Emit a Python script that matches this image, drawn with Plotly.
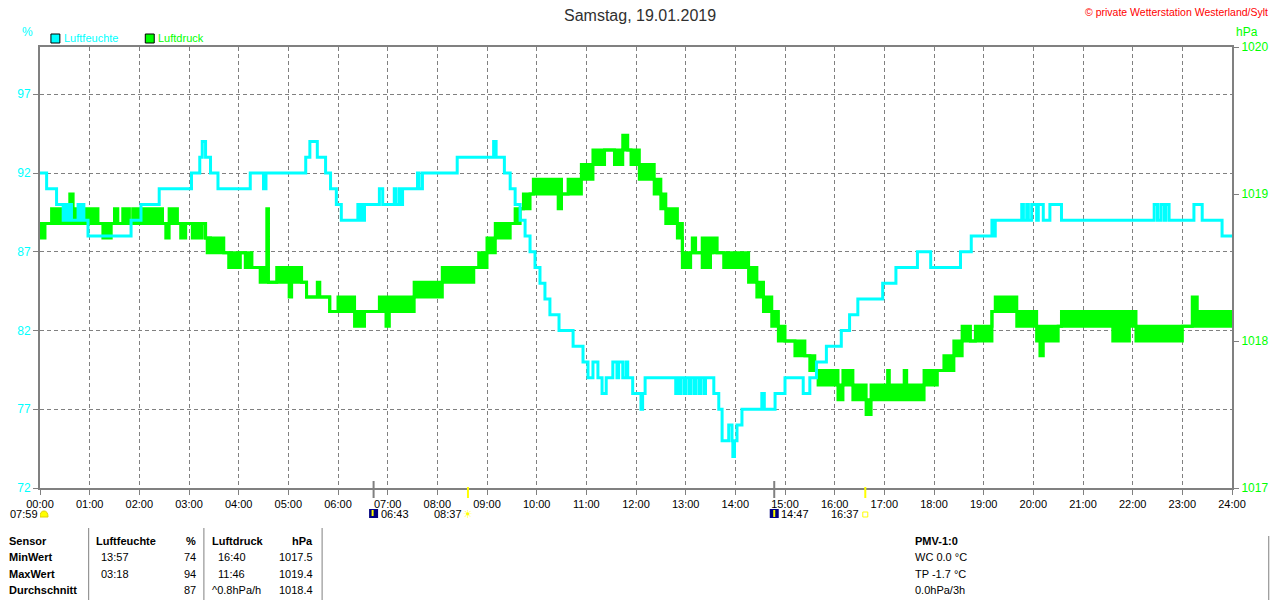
import plotly.graph_objects as go

# Luftfeuchte (%) als Stufen: Zeitpunkt des Wechsels und neuer Wert
feuchte_zeit = [
    "00:00", "00:08", "00:20", "00:28", "00:30", "00:33", "00:36", "00:38", "00:46", "00:48",
    "00:51", "00:53", "00:58", "01:50", "02:02", "02:24", "03:03", "03:13", "03:16", "03:20",
    "03:26", "03:35", "04:14", "04:30", "04:33", "05:21", "05:26", "05:35", "05:45", "05:51",
    "05:58", "06:04", "06:24", "06:26", "06:29", "06:31", "06:32", "06:50", "06:54", "07:08",
    "07:10", "07:14", "07:16", "07:18", "07:36", "07:38", "07:42", "08:24", "09:08", "09:11",
    "09:21", "09:28", "09:34", "09:40", "09:46", "09:52", "09:58", "10:04", "10:10", "10:16",
    "10:27", "10:44", "10:56", "11:02", "11:08", "11:14", "11:19", "11:24", "11:32", "11:37",
    "11:39", "11:44", "11:48", "11:50", "11:56", "12:06", "12:08", "12:11", "12:48", "12:50",
    "12:52", "12:54", "12:58", "13:00", "13:04", "13:06", "13:10", "13:12", "13:16", "13:18",
    "13:22", "13:24", "13:34", "13:40", "13:44", "13:52", "13:56", "13:57", "13:59", "14:02",
    "14:08", "14:32", "14:35", "14:48", "15:00", "15:22", "15:30", "15:38", "15:50", "16:08",
    "16:18", "16:28", "16:58", "17:14", "17:40", "17:56", "18:32", "18:45", "19:10", "19:12",
    "19:14", "19:46", "19:48", "19:52", "19:54", "19:58", "20:04", "20:06", "20:12", "20:20",
    "20:34", "22:26", "22:30", "22:34", "22:38", "22:40", "22:44", "23:14", "23:24", "23:48",
    "24:00",
]
feuchte_wert = [
    92, 91, 90, 89, 90, 89, 90, 89, 90, 89,
    90, 89, 88, 89, 90, 91, 92, 93, 94, 93,
    92, 91, 92, 91, 92, 93, 94, 93, 92, 91,
    90, 89, 90, 89, 90, 89, 90, 91, 90, 91,
    90, 91, 90, 91, 92, 91, 92, 93, 94, 93,
    92, 91, 90, 89, 88, 87, 86, 85, 84, 83,
    82, 81, 80, 79, 80, 79, 78, 79, 80, 79,
    80, 79, 80, 79, 78, 77, 78, 79, 78, 79,
    78, 79, 78, 79, 78, 79, 78, 79, 78, 79,
    78, 79, 78, 77, 75, 76, 75, 74, 75, 76,
    77, 78, 77, 78, 79, 78, 79, 80, 81, 82,
    83, 84, 85, 86, 87, 86, 87, 88, 89, 88,
    89, 90, 89, 90, 89, 90, 89, 90, 89, 90,
    89, 90, 89, 90, 89, 90, 89, 90, 89, 88,
    88,
]

# Luftdruck (hPa): der Wert springt ständig zwischen zwei Stufen hin und her.
druck_zeit = [
    "00:00", "00:06", "00:14", "00:36", "00:40", "01:10", "01:16", "01:26", "01:30", "01:34",
    "01:40", "01:48", "01:52", "02:28", "02:32", "02:36", "02:46", "02:50", "02:56", "03:04",
    "03:16", "03:20", "03:22", "03:24", "03:26", "03:42", "03:48", "04:02", "04:08", "04:16",
    "04:26", "04:34", "04:36", "04:46", "05:01", "05:04", "05:16", "05:22", "05:35", "05:38",
    "05:50", "06:00", "06:20", "06:32", "06:50", "06:58", "07:02", "07:32", "08:06", "08:44",
    "08:50", "09:00", "09:10", "09:28", "09:34", "09:40", "09:44", "09:52", "09:56", "10:26",
    "10:30", "10:38", "10:54", "11:08", "11:22", "11:34", "11:44", "11:50", "11:54", "12:04",
    "12:22", "12:30", "12:36", "12:50", "12:56", "13:06", "13:08", "13:12", "13:20", "13:30",
    "13:32", "13:38", "13:46", "14:16", "14:26", "14:34", "14:44", "14:52", "15:00", "15:12",
    "15:24", "15:30", "15:36", "15:40", "16:04", "16:10", "16:22", "16:38", "16:44", "17:04",
    "17:06", "17:24", "17:27", "17:48", "18:04", "18:12", "18:24", "18:34", "18:44", "18:50",
    "19:10", "19:14", "19:40", "20:04", "20:08", "20:12", "20:30", "20:34", "21:36", "21:56",
    "22:04", "23:00", "23:12", "23:18", "24:00",
]
druck_min = [
    1018.7, 1018.8, 1018.8, 1018.8, 1018.8, 1018.8, 1018.7, 1018.8, 1018.8, 1018.8,
    1018.8, 1018.8, 1018.8, 1018.8, 1018.7, 1018.8, 1018.8, 1018.7, 1018.8, 1018.7,
    1018.8, 1018.7, 1018.6, 1018.7, 1018.6, 1018.6, 1018.5, 1018.6, 1018.5, 1018.5,
    1018.4, 1018.4, 1018.4, 1018.4, 1018.3, 1018.4, 1018.4, 1018.3, 1018.3, 1018.3,
    1018.2, 1018.2, 1018.1, 1018.2, 1018.2, 1018.1, 1018.2, 1018.3, 1018.4, 1018.5,
    1018.5, 1018.6, 1018.7, 1018.8, 1018.8, 1018.9, 1018.9, 1019.0, 1019.0, 1018.9,
    1019.0, 1019.0, 1019.1, 1019.2, 1019.3, 1019.2, 1019.3, 1019.3, 1019.2, 1019.1,
    1019.0, 1018.9, 1018.8, 1018.7, 1018.5, 1018.6, 1018.6, 1018.6, 1018.5, 1018.6,
    1018.6, 1018.6, 1018.5, 1018.4, 1018.3, 1018.2, 1018.1, 1018.0, 1018.0, 1017.9,
    1017.9, 1017.8, 1017.8, 1017.7, 1017.6, 1017.7, 1017.6, 1017.5, 1017.6, 1017.6,
    1017.6, 1017.6, 1017.6, 1017.7, 1017.8, 1017.8, 1017.9, 1018.0, 1018.0, 1018.0,
    1018.2, 1018.2, 1018.1, 1018.0, 1017.9, 1018.0, 1018.1, 1018.1, 1018.0, 1018.1,
    1018.0, 1018.1, 1018.1, 1018.1, 1018.1,
]
druck_max = [
    1018.8, 1018.8, 1018.9, 1019.0, 1018.9, 1018.8, 1018.8, 1018.8, 1018.9, 1018.8,
    1018.9, 1018.8, 1018.9, 1018.8, 1018.8, 1018.9, 1018.8, 1018.8, 1018.8, 1018.8,
    1018.8, 1018.7, 1018.7, 1018.7, 1018.7, 1018.6, 1018.6, 1018.6, 1018.6, 1018.5,
    1018.5, 1018.9, 1018.4, 1018.5, 1018.5, 1018.5, 1018.4, 1018.3, 1018.4, 1018.3,
    1018.2, 1018.3, 1018.2, 1018.2, 1018.3, 1018.3, 1018.3, 1018.4, 1018.5, 1018.5,
    1018.6, 1018.7, 1018.8, 1018.8, 1018.9, 1018.9, 1019.0, 1019.0, 1019.1, 1019.1,
    1019.0, 1019.1, 1019.2, 1019.3, 1019.3, 1019.3, 1019.4, 1019.3, 1019.3, 1019.2,
    1019.1, 1019.0, 1018.9, 1018.8, 1018.6, 1018.6, 1018.7, 1018.6, 1018.7, 1018.6,
    1018.7, 1018.6, 1018.6, 1018.5, 1018.4, 1018.3, 1018.2, 1018.1, 1018.0, 1018.0,
    1017.9, 1017.9, 1017.8, 1017.8, 1017.7, 1017.8, 1017.7, 1017.6, 1017.7, 1017.8,
    1017.7, 1017.8, 1017.7, 1017.8, 1017.8, 1017.9, 1018.0, 1018.1, 1018.0, 1018.1,
    1018.2, 1018.3, 1018.2, 1018.1, 1018.1, 1018.1, 1018.1, 1018.2, 1018.2, 1018.2,
    1018.1, 1018.1, 1018.3, 1018.2, 1018.2,
]

stunden = [f"{h:02d}:00" for h in range(25)]
feuchte_ticks = [72, 77, 82, 87, 92, 97]
druck_ticks = [1017, 1018, 1019, 1020]

# Sonne / Mond
mond_unter = "06:43"
sonne_auf = "08:37"
mond_auf = "14:47"
sonne_unter = "16:37"
tageslaenge = "07:59"

# Tabelle unten
tab_sensor = ["MinWert", "MaxWert", "Durchschnitt"]
tab_feuchte_zeit = ["13:57", "03:18", ""]
tab_feuchte_wert = ["74", "94", "87"]
tab_druck_zeit = ["16:40", "11:46", "^0.8hPa/h"]
tab_druck_wert = ["1017.5", "1019.4", "1018.4"]
pmv_zeilen = ["<b>PMV-1:0</b>", "WC 0.0 °C", "TP -1.7 °C", "0.0hPa/3h"]

CYAN = "#00FFFF"
GRUEN = "#00FF00"
GRAU = "#808080"
FONT = "Liberation Sans, Arial, sans-serif"


def minuten(t):
    h, m = t.split(":")
    return int(h) * 60 + int(m)


# Pixel -> Papierkoordinaten (Plotfläche x 40..1240, y 47..488)
def px(x):
    return (x - 40) / 1200


def py(y):
    return (488 - y) / 441


fig = go.Figure()

# Druck: obere und untere Stufe, dazwischen gefüllt (das schnelle Hin- und Herspringen)
dx = [minuten(t) for t in druck_zeit]
fig.add_trace(go.Scatter(
    x=dx, y=druck_max, mode="lines",
    line=dict(color=GRUEN, width=3, shape="hv"), yaxis="y", name="Luftdruck",
))
fig.add_trace(go.Scatter(
    x=dx, y=druck_min, mode="lines", fill="tonexty", fillcolor=GRUEN,
    line=dict(color=GRUEN, width=3, shape="hv"), yaxis="y", name="Luftdruck min",
))
fig.add_trace(go.Scatter(
    x=[minuten(t) for t in feuchte_zeit], y=feuchte_wert, mode="lines",
    line=dict(color=CYAN, width=3, shape="hv"), yaxis="y2", name="Luftfeuchte",
))

ann = []
shapes = []


def text(x, y, s, color="black", size=11, anchor="left", xref="paper", xshift=0):
    ann.append(dict(x=x, y=y, xref=xref, yref="paper", text=s, showarrow=False,
                    xanchor=anchor, yanchor="middle", xshift=xshift,
                    font=dict(family=FONT, size=size, color=color)))


# Titel und Kopfzeile
text(px(644), py(15), "Samstag, 19.01.2019", color="#303030", size=16, anchor="center")
text(px(1278), py(12), "© private Wetterstation Westerland/Sylt", color="red", size=10.5, anchor="right")
text(px(20), py(32), "%", color=CYAN, size=12)
text(px(1242), py(32), "hPa", color=GRUEN, size=12)

# Legende
for x0, farbe, name in [(51, CYAN, "Luftfeuchte"), (146, GRUEN, "Luftdruck")]:
    shapes.append(dict(type="rect", xref="paper", yref="paper", x0=px(x0), x1=px(x0 + 9),
                       y0=py(43), y1=py(34), fillcolor=farbe, line=dict(color="black", width=1)))
    text(px(x0 + 11), py(38), name, color=farbe, size=11)

# Sonne / Mond Markierungen an der Zeitachse
for t, farbe in [(mond_unter, GRAU), (sonne_auf, "#FFFF00"), (mond_auf, GRAU), (sonne_unter, "#FFFF00")]:
    m = minuten(t)
    shapes.append(dict(type="line", xref="x", yref="paper", x0=m, x1=m, ysizemode="pixel", yanchor=0,
                       y0=-10, y1=(7 if farbe == GRAU else 1), line=dict(color=farbe, width=2)))

for t, pfeil in [(mond_unter, "M-1,-22 L-1,-28"), (mond_auf, "M0,-29 L0,-22")]:
    m = minuten(t)
    shapes.append(dict(type="rect", xref="x", yref="paper", xsizemode="pixel", ysizemode="pixel",
                       xanchor=m, yanchor=0, x0=-4.5, x1=4.5, y0=-30, y1=-21,
                       fillcolor="#000080", line=dict(width=0)))
    shapes.append(dict(type="path", xref="x", yref="paper", xsizemode="pixel", ysizemode="pixel",
                       xanchor=m, yanchor=0, path=pfeil, line=dict(color="#FFFF00", width=2)))
    text(m, py(514), t, xref="x", xshift=5)

text(minuten(sonne_auf), py(514), sonne_auf, xref="x", anchor="right", xshift=-4)
ann.append(dict(x=minuten(sonne_auf), y=py(514), xref="x", yref="paper", text="☀", showarrow=False,
                xanchor="center", yanchor="middle", font=dict(family="DejaVu Sans", size=11, color="#FFFF00")))
text(minuten(sonne_unter), py(514), sonne_unter, xref="x", anchor="right", xshift=-4)
shapes.append(dict(type="rect", xref="x", yref="paper", xsizemode="pixel", ysizemode="pixel",
                   xanchor=minuten(sonne_unter), yanchor=0, x0=-2.5, x1=2.5, y0=-29, y1=-24,
                   fillcolor="white", line=dict(color="#FFFF00", width=1)))

text(px(8), py(514), tageslaenge)
shapes.append(dict(type="path", xref="x", yref="paper", xsizemode="pixel", ysizemode="pixel",
                   xanchor=0, yanchor=0, path="M0,-29 Q0,-23 4,-23 Q8,-23 8,-29 Z",
                   fillcolor="#FFFF00", line=dict(color="#E0D000", width=1)))

# Tabelle
zeilen_y = [541, 557, 574, 590]
text(px(7), py(zeilen_y[0]), "<b>Sensor</b>")
text(px(94), py(zeilen_y[0]), "<b>Luftfeuchte</b>")
text(px(199), py(zeilen_y[0]), "<b>%</b>", anchor="right")
text(px(211), py(zeilen_y[0]), "<b>Luftdruck</b>")
text(px(317), py(zeilen_y[0]), "<b>hPa</b>", anchor="right")
for i, y in enumerate(zeilen_y[1:]):
    text(px(7), py(y), f"<b>{tab_sensor[i]}</b>")
    text(px(99), py(y), tab_feuchte_zeit[i])
    text(px(199), py(y), tab_feuchte_wert[i], anchor="right")
    dz = tab_druck_zeit[i]
    text(px(211 if dz.startswith("^") else 217), py(y), dz)
    text(px(317), py(y), tab_druck_wert[i], anchor="right")
for i, y in enumerate(zeilen_y):
    text(px(919), py(y), pmv_zeilen[i])

for x in [89, 205, 324]:
    shapes.append(dict(type="line", xref="paper", yref="paper", x0=px(x), x1=px(x),
                       y0=py(528), y1=py(600), line=dict(color=GRAU, width=1)))
shapes.append(dict(type="line", xref="paper", yref="paper", x0=px(1277), x1=px(1277),
                   y0=py(536), y1=py(600), line=dict(color=GRAU, width=1)))

fig.update_layout(
    width=1280, height=600,
    margin=dict(l=40, r=40, t=47, b=112),
    plot_bgcolor="white", paper_bgcolor="white",
    showlegend=False,
    font=dict(family=FONT, size=11, color="black"),
    xaxis=dict(
        range=[0, 1440], tickvals=list(range(0, 1441, 60)), ticktext=stunden,
        showgrid=True, gridcolor=GRAU, gridwidth=1, griddash="4px,3px",
        showline=True, linecolor=GRAU, linewidth=2, mirror=True,
        ticks="outside", ticklen=5, tickcolor=GRAU, zeroline=False,
        tickfont=dict(family=FONT, size=11, color="black"),
    ),
    yaxis=dict(
        range=[1017, 1020], tickvals=druck_ticks, side="right",
        showgrid=False, showline=True, linecolor=GRAU, linewidth=2,
        ticks="outside", ticklen=5, tickcolor=GRAU, zeroline=False,
        tickfont=dict(family=FONT, size=12, color=GRUEN),
    ),
    yaxis2=dict(
        range=[72, 100], tickvals=feuchte_ticks, side="left", overlaying="y",
        showgrid=True, gridcolor=GRAU, gridwidth=1, griddash="4px,3px",
        showline=True, linecolor=GRAU, linewidth=2,
        ticks="outside", ticklen=5, tickcolor=GRAU, zeroline=False,
        tickfont=dict(family=FONT, size=12, color=CYAN),
    ),
    annotations=ann,
    shapes=shapes,
)

fig.write_html("out.html", config={"displayModeBar": False},
               post_script="document.body.style.margin='0px';")
